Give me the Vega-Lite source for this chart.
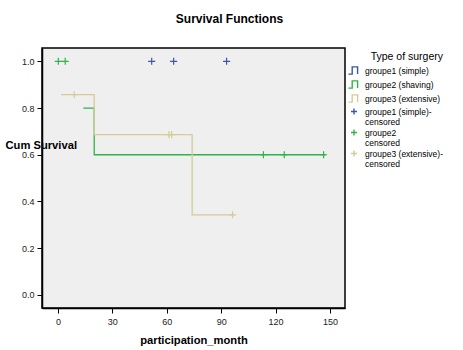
{
  "$schema": "https://vega.github.io/schema/vega-lite/v6.json",
  "autosize": {"type": "none"},
  "width": 303,
  "height": 260,
  "padding": {"left": 42, "top": 48, "right": 118, "bottom": 42},
  "background": "white",
  "title": {"text": "Survival Functions", "font": "Liberation Sans", "fontSize": 12, "fontWeight": "bold", "anchor": "middle", "frame": "group", "offset": 22, "dx": 36, "color": "black"},
  "config": {
    "view": {"fill": "#efefef", "stroke": "black", "strokeWidth": 1.5},
    "axis": {"labelFont": "Liberation Sans", "labelFontSize": 9, "labelColor": "#222", "titleFont": "Liberation Sans", "titleFontSize": 11.2, "titleFontWeight": "bold", "titleColor": "black", "grid": false, "domainColor": "black", "domainWidth": 1.5, "tickColor": "black", "tickSize": 5},
    "legend": {"orient": "none", "legendX": 307, "legendY": 4,
      "titleFont": "Liberation Sans", "titleFontSize": 10.5, "titleFontWeight": "normal", "titleColor": "black", "titleAnchor": "end", "titlePadding": 3,
      "labelFont": "Liberation Sans", "labelFontSize": 8.5, "labelColor": "black", "labelOffset": 6, "symbolSize": 64, "symbolStrokeWidth": 1.4, "rowPadding": 0}
  },
  "datasets": {
    "lines": [
      {"series": "groupe2 (shaving)", "ord": 1, "month": 14, "surv": 0.8},
      {"series": "groupe2 (shaving)", "ord": 2, "month": 20, "surv": 0.8},
      {"series": "groupe2 (shaving)", "ord": 3, "month": 20, "surv": 0.6},
      {"series": "groupe2 (shaving)", "ord": 4, "month": 147.5, "surv": 0.6},
      {"series": "groupe3 (extensive)", "ord": 1, "month": 1.7, "surv": 0.857},
      {"series": "groupe3 (extensive)", "ord": 2, "month": 20, "surv": 0.857},
      {"series": "groupe3 (extensive)", "ord": 3, "month": 20, "surv": 0.686},
      {"series": "groupe3 (extensive)", "ord": 4, "month": 74, "surv": 0.686},
      {"series": "groupe3 (extensive)", "ord": 5, "month": 74, "surv": 0.343},
      {"series": "groupe3 (extensive)", "ord": 6, "month": 96.5, "surv": 0.343}
    ],
    "censored": [
      {"series": "groupe1 (simple)-censored", "month": 51.7, "surv": 1.0},
      {"series": "groupe1 (simple)-censored", "month": 63.8, "surv": 1.0},
      {"series": "groupe1 (simple)-censored", "month": 93, "surv": 1.0},
      {"series": "groupe2 censored", "month": 0.2, "surv": 1.0},
      {"series": "groupe2 censored", "month": 4, "surv": 1.0},
      {"series": "groupe2 censored", "month": 113.3, "surv": 0.6},
      {"series": "groupe2 censored", "month": 124.8, "surv": 0.6},
      {"series": "groupe2 censored", "month": 146.5, "surv": 0.6},
      {"series": "groupe3 (extensive)-censored", "month": 9, "surv": 0.857},
      {"series": "groupe3 (extensive)-censored", "month": 61.2, "surv": 0.686},
      {"series": "groupe3 (extensive)-censored", "month": 62.7, "surv": 0.686},
      {"series": "groupe3 (extensive)-censored", "month": 96.3, "surv": 0.343}
    ]
  },
  "encoding": {
    "x": {"field": "month", "type": "quantitative", "scale": {"domain": [-8.8, 158.3], "nice": false, "zero": false},
      "axis": {"values": [0, 30, 60, 90, 120, 150], "title": "participation_month", "titlePadding": 8, "labelPadding": 4}},
    "y": {"field": "surv", "type": "quantitative", "scale": {"domain": [-0.056, 1.057], "nice": false, "zero": false},
      "axis": {"values": [0, 0.2, 0.4, 0.6, 0.8, 1.0], "format": ".1f", "title": "Cum Survival", "titleAngle": 0, "titleAlign": "left", "titleBaseline": "middle", "titleX": -37, "titleY": 97, "labelPadding": 3}}
  },
  "layer": [
    {
      "data": {"name": "censored"},
      "mark": {"type": "point", "filled": false, "strokeWidth": 1.2, "size": 90, "opacity": 1},
      "encoding": {
        "color": {"field": "series", "type": "nominal", "title": "Type of surgery",
          "scale": {"domain": ["groupe1 (simple)", "groupe2 (shaving)", "groupe3 (extensive)", "groupe1 (simple)-censored", "groupe2 censored", "groupe3 (extensive)-censored"],
                    "range": ["#3b55aa", "#30b44a", "#d5cc95", "#3b55aa", "#30b44a", "#d5cc95"]},
          "legend": {"symbolSize": 64, "labelExpr": "indexof(datum.label,'censored') > 0 ? [replace(datum.label,'censored',''), 'censored'] : datum.label"}},
        "shape": {"field": "series", "type": "nominal", "title": "Type of surgery",
          "scale": {"domain": ["groupe1 (simple)", "groupe2 (shaving)", "groupe3 (extensive)", "groupe1 (simple)-censored", "groupe2 censored", "groupe3 (extensive)-censored"],
                    "range": ["M-1.4,0.9L-0.45,0.9L-0.45,-0.9L0.9,-0.9L0.9,0.9", "M-1.4,0.9L-0.45,0.9L-0.45,-0.9L0.9,-0.9L0.9,0.9", "M-1.4,0.9L-0.45,0.9L-0.45,-0.9L0.9,-0.9L0.9,0.9", "M-0.75,0L0.75,0M0,-0.75L0,0.75", "M-0.75,0L0.75,0M0,-0.75L0,0.75", "M-0.75,0L0.75,0M0,-0.75L0,0.75"]},
          "legend": {"symbolSize": 64, "labelExpr": "indexof(datum.label,'censored') > 0 ? [replace(datum.label,'censored',''), 'censored'] : datum.label"}}
      }
    },
    {
      "data": {"name": "lines"},
      "mark": {"type": "line", "strokeWidth": 1.3, "strokeCap": "butt"},
      "encoding": {
        "order": {"field": "ord", "type": "quantitative"},
        "color": {"field": "series", "type": "nominal", "title": "Type of surgery",
          "legend": {"symbolSize": 64, "labelExpr": "indexof(datum.label,'censored') > 0 ? [replace(datum.label,'censored',''), 'censored'] : datum.label"}}
      }
    }
  ]
}
